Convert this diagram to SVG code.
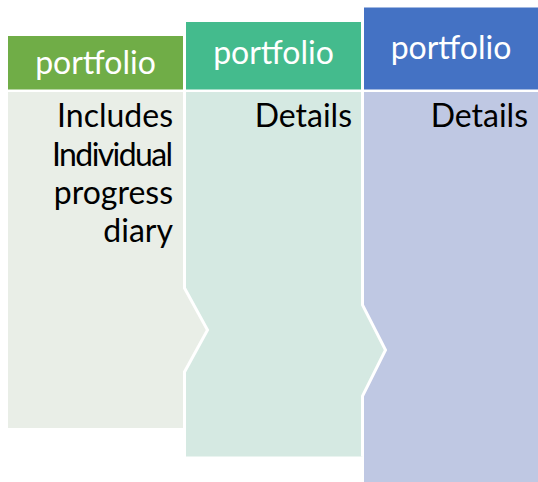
<svg xmlns="http://www.w3.org/2000/svg" width="538" height="482" viewBox="0 0 538 482">
<style>
.hd{font-family:Lato,"Open Sans","Liberation Sans",sans-serif;font-size:32px;fill:#ffffff;text-anchor:middle}
.bd{font-family:Lato,"Open Sans","Liberation Sans",sans-serif;font-size:32px;fill:#000000;text-anchor:end}
.seam{fill:none;stroke:#ffffff;stroke-width:3}
</style>
<rect width="538" height="482" fill="#ffffff"/>
<g id="col3">
<rect x="364" y="92" width="174" height="390" fill="#BFC8E3"/>
<rect x="364" y="7.5" width="174" height="82" fill="#4472C4"/>
<text class="hd" x="451" y="58.5">portfolio</text>
<text class="bd" x="528" y="127">Details</text>
</g>
<g id="col2">
<polygon points="186,92 362.5,92 362.5,305 385.5,350 362.5,396 362.5,456.5 186,456.5" fill="#D5E9E2"/>
<polyline class="seam" points="362.5,92 362.5,305 385.5,350 362.5,396 362.5,456.5"/>
<rect x="186" y="22" width="175" height="67.5" fill="#44BB8D"/>
<text class="hd" x="273.5" y="63.5">portfolio</text>
<text class="bd" x="352" y="127">Details</text>
</g>
<g id="col1">
<polygon points="8,92 184.5,92 184.5,288 207.5,330 184.5,372 184.5,428 8,428" fill="#E9EEE7"/>
<polyline class="seam" points="184.5,92 184.5,288 207.5,330 184.5,372 184.5,428"/>
<rect x="8" y="36" width="175" height="53.5" fill="#70AD47"/>
<text class="hd" x="95.5" y="73.5">portfolio</text>
<text class="bd" x="173" y="127">Includes</text>
<text class="bd" x="173" y="166" textLength="121">Individual</text>
<text class="bd" x="173" y="204">progress</text>
<text class="bd" x="173" y="242">diary</text>
</g>
<g id="connectors"></g>
</svg>
